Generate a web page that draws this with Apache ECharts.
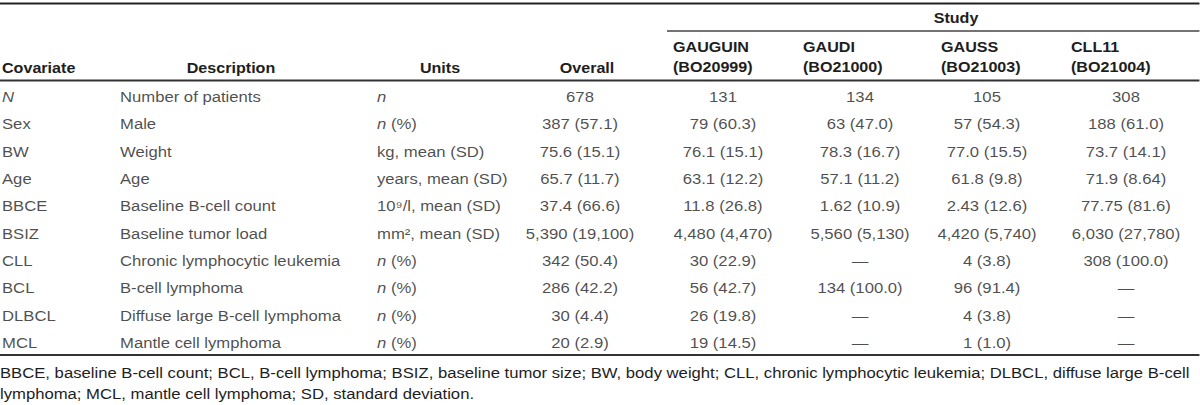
<!DOCTYPE html>
<html><head><meta charset="utf-8">
<script src="https://cdn.jsdelivr.net/npm/echarts@6/dist/echarts.min.js"></script>
<style>
html,body{margin:0;padding:0;background:#fff;overflow:hidden}
#wrap{width:1200px;height:405px;overflow:hidden;position:relative}
#c{height:405px;transform-origin:0 0;position:absolute;left:0;top:0}
</style></head><body><div id="wrap"><div id="c"></div></div>
<script>
// ---------- data ----------
const covariates = ["N","Sex","BW","Age","BBCE","BSIZ","CLL","BCL","DLBCL","MCL"];
const descriptions = ["Number of patients","Male","Weight","Age","Baseline B-cell count","Baseline tumor load","Chronic lymphocytic leukemia","B-cell lymphoma","Diffuse large B-cell lymphoma","Mantle cell lymphoma"];
const units = ["n","n (%)","kg, mean (SD)","years, mean (SD)","10\u2079/l, mean (SD)","mm\u00B2, mean (SD)","n (%)","n (%)","n (%)","n (%)"];
const overall = ["678","387 (57.1)","75.6 (15.1)","65.7 (11.7)","37.4 (66.6)","5,390 (19,100)","342 (50.4)","286 (42.2)","30 (4.4)","20 (2.9)"];
const gauguin = ["131","79 (60.3)","76.1 (15.1)","63.1 (12.2)","11.8 (26.8)","4,480 (4,470)","30 (22.9)","56 (42.7)","26 (19.8)","19 (14.5)"];
const gaudi = ["134","63 (47.0)","78.3 (16.7)","57.1 (11.2)","1.62 (10.9)","5,560 (5,130)","\u2014","134 (100.0)","\u2014","\u2014"];
const gauss = ["105","57 (54.3)","77.0 (15.5)","61.8 (9.8)","2.43 (12.6)","4,420 (5,740)","4 (3.8)","96 (91.4)","4 (3.8)","1 (1.0)"];
const cll11 = ["308","188 (61.0)","73.7 (14.1)","71.9 (8.64)","77.75 (81.6)","6,030 (27,780)","308 (100.0)","\u2014","\u2014","\u2014"];
const headerLabels = ["Covariate","Description","Units","Overall"];
const studyLabels = ["GAUGUIN\n(BO20999)","GAUDI\n(BO21000)","GAUSS\n(BO21003)","CLL11\n(BO21004)"];
const spannerLabel = "Study";
const footnoteLines = [
  "BBCE, baseline B-cell count; BCL, B-cell lymphoma; BSIZ, baseline tumor size; BW, body weight; CLL, chronic lymphocytic leukemia; DLBCL, diffuse large B-cell",
  "lymphoma; MCL, mantle cell lymphoma; SD, standard deviation."
];

// ---------- layout ----------
const SX = 1.15;                 // horizontal stretch of the reference
const W = 1200 / SX;
const FONT = 'Liberation Sans, Arial, Helvetica, sans-serif';
const FS = 14.5;                 // body text
const FSB = 14;                  // bold header text
const TXT = '#1e1e1e';
const columns = [
  {vals: covariates, x: 2, align: 'left'},
  {vals: descriptions, x: 120, align: 'left'},
  {vals: units, x: 377, align: 'left'},
  {vals: overall, x: 580, align: 'center'},
  {vals: gauguin, x: 723, align: 'center'},
  {vals: gaudi, x: 860, align: 'center'},
  {vals: gauss, x: 987, align: 'center'},
  {vals: cll11, x: 1126, align: 'center'}
];
const headerPos = [{x: 2, align: 'left'}, {x: 231, align: 'center'}, {x: 440, align: 'center'}, {x: 587, align: 'center'}];
const studyX = [673, 803, 941, 1071];
const rowTop = 83.35, rowH = 27.3;

const el = document.getElementById('c');
el.style.width = W + 'px';
el.style.transform = 'scaleX(' + SX + ')';
const chart = echarts.init(el, null, {renderer: 'svg', width: W, height: 405});

function fmt(t) {
  if (t === 'N' || t === 'n') return '{i|' + t + '}';
  if (t.indexOf('n (') === 0) return '{i|n} ' + t.slice(2);
  return t;
}

const series = columns.map(col => ({
  type: 'scatter',
  silent: true,
  animation: false,
  symbolSize: 1,
  itemStyle: {color: 'rgba(0,0,0,0)'},
  data: col.vals.map((t, i) => ({value: [col.x, i], name: t})),
  label: {
    show: true,
    position: 'inside',
    align: col.align,
    verticalAlign: 'middle',
    fontFamily: FONT,
    fontSize: FS,
    color: TXT,
    formatter: p => fmt(p.name),
    rich: {i: {fontStyle: 'italic', fontFamily: FONT, fontSize: FS, color: TXT}}
  }
}));

const px = x => x / SX;
const graphics = [];
function hline(y, x1, x2, w, c) {
  graphics.push({type: 'line', silent: true, shape: {x1: px(x1), y1: y, x2: px(x2), y2: y}, style: {stroke: c, lineWidth: w}});
}
hline(3.5, 0, 1200, 2, '#222');
hline(31, 667, 1200, 1.5, '#444');
hline(80.5, 0, 1200, 2, '#333');
hline(355, 0, 1200, 2, '#333');

function txt(x, y, text, align, bold, lh) {
  graphics.push({type: 'text', silent: true, x: px(x), y: y, style: {
    text: text, fill: TXT, font: (bold ? 'bold ' + FSB : FS) + 'px ' + FONT,
    textAlign: align, textVerticalAlign: 'middle', lineHeight: lh || 20
  }});
}
txt(956, 18, spannerLabel, 'center', true);
headerLabels.forEach((h, i) => txt(headerPos[i].x, 68, h, headerPos[i].align, true));
studyLabels.forEach((s, i) => txt(studyX[i], 57, s, 'left', true, 20));
footnoteLines.forEach((f, i) => txt(0, 373 + i * 21, f, 'left', false));

chart.setOption({
  animation: false,
  grid: {left: 0, right: 0, top: rowTop, height: rowH * covariates.length},
  xAxis: {type: 'value', min: 0, max: 1200, show: false},
  yAxis: {type: 'category', data: covariates, inverse: true, show: false},
  series: series,
  graphic: graphics
});
</script></body></html>
